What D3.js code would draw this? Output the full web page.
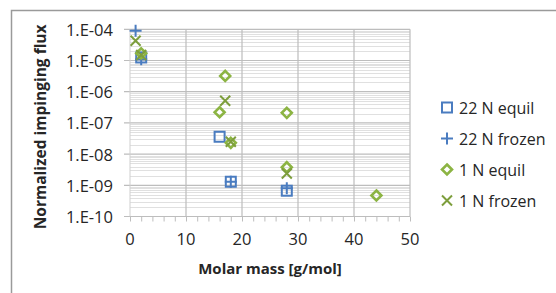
<!DOCTYPE html>
<html>
<head>
<meta charset="utf-8">
<script src="https://cdn.jsdelivr.net/npm/d3@7"></script>
<style>
  body { margin: 0; background: #fff; }
  svg { display: block; }
  text { font-family: "Open Sans", "DejaVu Sans", sans-serif; fill: #262626; }
</style>
</head>
<body>
<div id="chart"></div>
<script>
// values
const eq22_mass = [2, 16, 18, 28];
const eq22_flux = [1.25e-5, 3.6e-8, 1.3e-9, 6.7e-10];

const fr22_mass = [1, 2, 18, 28];
const fr22_flux = [9e-5, 1.1e-5, 1.3e-9, 8e-10];

const eq1_mass = [2, 17, 16, 28, 18, 28, 44];
const eq1_flux = [1.7e-5, 3.2e-6, 2.2e-7, 2.1e-7, 2.3e-8, 3.8e-9, 4.7e-10];

const fr1_mass = [1, 2, 17, 18, 28];
const fr1_flux = [4.3e-5, 1.5e-5, 5.1e-7, 2.5e-8, 2.4e-9];

const x_ticks = [0, 10, 20, 30, 40, 50];
const y_ticks = [1e-4, 1e-5, 1e-6, 1e-7, 1e-8, 1e-9, 1e-10];

const series = [
  { name: "22 N equil", mass: eq22_mass, flux: eq22_flux, shape: "square", color: "#4a7cc0" },
  { name: "22 N frozen", mass: fr22_mass, flux: fr22_flux, shape: "plus", color: "#4a7cc0" },
  { name: "1 N equil", mass: eq1_mass, flux: eq1_flux, shape: "diamond", color: "#8cb443" },
  { name: "1 N frozen", mass: fr1_mass, flux: fr1_flux, shape: "cross", color: "#7d9e3c" },
];

const width = 556, height = 293;
const plot = { left: 130, right: 410, top: 29.3, bottom: 216.5 };

const svg = d3.select("#chart").append("svg")
  .attr("width", width)
  .attr("height", height);

// outer chart frame
svg.append("rect")
  .attr("x", 11.5).attr("y", 10.5)
  .attr("width", 600).attr("height", 400)
  .attr("fill", "none")
  .attr("stroke", "#9a9a9a")
  .attr("stroke-width", 1.5);

const X = d3.scaleLinear().domain([0, 50]).range([plot.left, plot.right]);
const Y = d3.scaleLog().domain([1e-10, 1e-4]).range([plot.bottom, plot.top]);

const g = svg.append("g");

// minor log gridlines
const minor = [];
for (let e = -10; e < -4; e++) {
  for (let m = 2; m <= 9; m++) minor.push(m * Math.pow(10, e));
}
g.selectAll("line.minor").data(minor).enter().append("line")
  .attr("x1", plot.left).attr("x2", plot.right)
  .attr("y1", (d) => Math.round(Y(d)) + 0.5)
  .attr("y2", (d) => Math.round(Y(d)) + 0.5)
  .attr("stroke", "#e0e0e0")
  .attr("stroke-width", 1);

// major horizontal gridlines with ticks to the left
g.selectAll("line.ymajor").data(y_ticks).enter().append("line")
  .attr("x1", plot.left - 6).attr("x2", plot.right)
  .attr("y1", (d) => Y(d)).attr("y2", (d) => Y(d))
  .attr("stroke", "#bdbdbd")
  .attr("stroke-width", 1.2);

// vertical gridlines
g.selectAll("line.xmajor").data(x_ticks.slice(1)).enter().append("line")
  .attr("x1", (d) => X(d)).attr("x2", (d) => X(d))
  .attr("y1", plot.top).attr("y2", plot.bottom)
  .attr("stroke", "#bdbdbd")
  .attr("stroke-width", 1.2);

// left axis line
g.append("line")
  .attr("x1", plot.left).attr("x2", plot.left)
  .attr("y1", plot.top).attr("y2", plot.bottom)
  .attr("stroke", "#cfcfcf");

// x axis: major + minor ticks below the baseline
const xaxis = g.append("g")
  .attr("transform", `translate(0, ${plot.bottom})`)
  .call(d3.axisBottom(X).tickValues(d3.range(0, 51, 2)).tickSize(5).tickFormat(""));
xaxis.select(".domain").remove();
xaxis.selectAll("line").attr("stroke", "#bdbdbd");

g.selectAll("text.xlab").data(x_ticks).enter().append("text")
  .attr("x", (d) => X(d)).attr("y", plot.bottom + 28)
  .attr("text-anchor", "middle")
  .attr("font-size", 16.5)
  .text((d) => d);

g.selectAll("text.ylab").data(y_ticks).enter().append("text")
  .attr("x", 113).attr("y", (d) => Y(d))
  .attr("text-anchor", "end")
  .attr("dominant-baseline", "central")
  .attr("font-size", 16.5)
  .text((d) => "1.E-" + String(-Math.round(Math.log10(d))).padStart(2, "0"));

// axis titles
svg.append("text")
  .attr("x", X(25)).attr("y", 274)
  .attr("text-anchor", "middle")
  .attr("font-size", 15)
  .attr("font-weight", "bold")
  .text("Molar mass [g/mol]");

svg.append("text")
  .attr("transform", `translate(46, ${(plot.top + plot.bottom) / 2 + 4}) rotate(-90)`)
  .attr("text-anchor", "middle")
  .attr("font-size", 15.5)
  .attr("font-weight", "bold")
  .text("Normalized impinging flux");

function draw_marker(sel, shape, color) {
  const s = 5;
  if (shape === "square") {
    sel.append("rect").attr("x", -s).attr("y", -s).attr("width", 2 * s).attr("height", 2 * s)
      .attr("fill", "none").attr("stroke", color).attr("stroke-width", 2);
  } else if (shape === "diamond") {
    sel.append("path").attr("d", `M0,${-s}L${s},0L0,${s}L${-s},0Z`)
      .attr("fill", "none").attr("stroke", color).attr("stroke-width", 2.6);
  } else if (shape === "plus") {
    sel.append("path").attr("d", `M${-s - 1},0H${s + 1}M0,${-s - 1}V${s + 1}`)
      .attr("stroke", color).attr("stroke-width", 2);
  } else {
    sel.append("path").attr("d", `M${-s},${-s}L${s},${s}M${s},${-s}L${-s},${s}`)
      .attr("stroke", color).attr("stroke-width", 2);
  }
}

series.forEach((sr) => {
  sr.mass.forEach((m, i) => {
    const mk = g.append("g").attr("transform", `translate(${X(m)}, ${Y(sr.flux[i])})`);
    draw_marker(mk, sr.shape, sr.color);
  });
});

// legend
const legend = svg.append("g");
series.forEach((sr, i) => {
  const row = legend.append("g").attr("transform", `translate(0, ${107.5 + i * 31})`);
  const mk = row.append("g").attr("transform", "translate(447, 0)");
  draw_marker(mk, sr.shape, sr.color);
  row.append("text")
    .attr("x", 459).attr("y", 0)
    .attr("dominant-baseline", "central")
    .attr("font-size", 16)
    .text(sr.name);
});
</script>
</body>
</html>
